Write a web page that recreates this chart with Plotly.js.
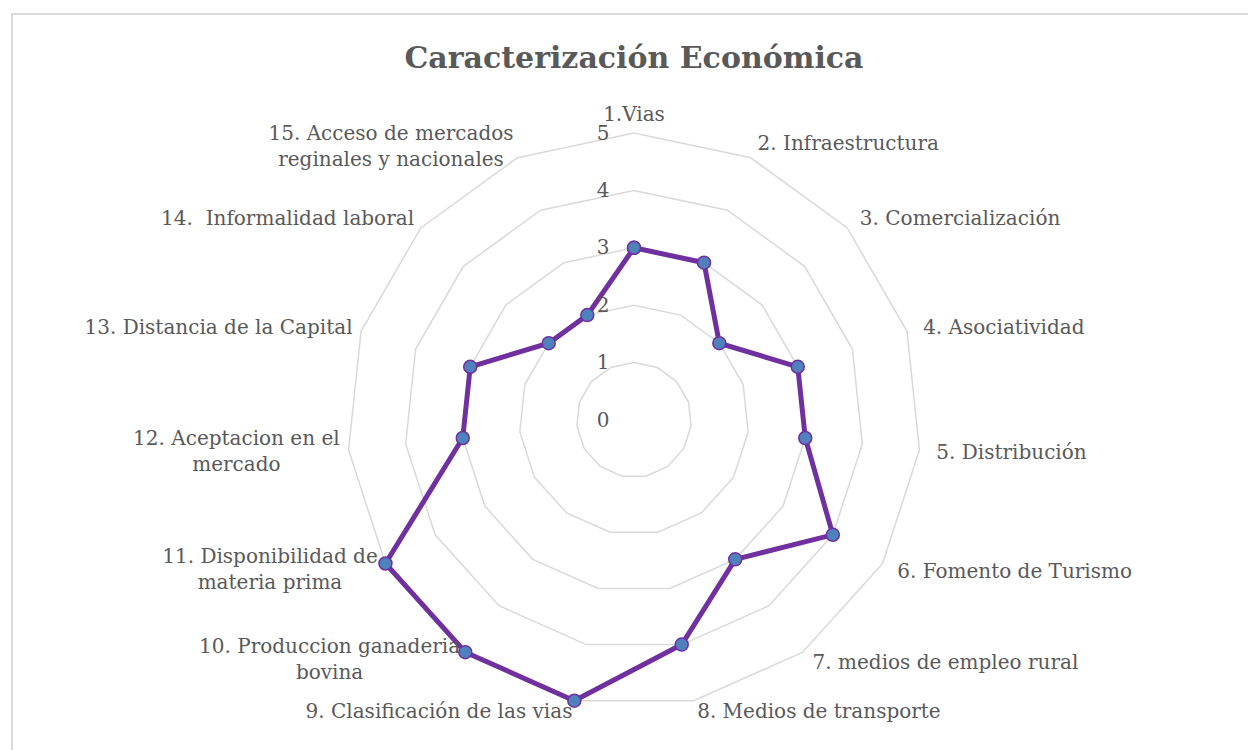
<!DOCTYPE html>
<html>
<head>
<meta charset="utf-8">
<script src="https://cdn.plot.ly/plotly-3.0.1.min.js"></script>
<style>
  html, body { margin: 0; padding: 0; width: 1248px; height: 750px; overflow: hidden; background: #fff; }
  #frame { position: absolute; left: 11px; top: 13px; width: 1400px; height: 900px; border: 2px solid #d9d9d9; box-sizing: border-box; }
  #chart { position: absolute; left: 0; top: 0; width: 1248px; height: 750px; }
</style>
</head>
<body>
<div id="frame"></div>
<div id="chart"></div>
<script>
const categories = [
  "1.Vias",
  "2. Infraestructura",
  "3. Comercialización",
  "4. Asociatividad",
  "5. Distribución",
  "6. Fomento de Turismo",
  "7. medios de empleo rural",
  "8. Medios de transporte",
  "9. Clasificación de las vias",
  "10. Produccion ganaderia<br>bovina",
  "11. Disponibilidad de<br>materia prima",
  "12. Aceptacion en el<br>mercado",
  "13. Distancia de la Capital",
  "14.  Informalidad laboral",
  "15. Acceso de mercados<br>reginales y nacionales"
];
const values = [3, 3, 2, 3, 3, 4, 3, 4, 5, 5, 5, 3, 3, 2, 2];
const radialTicks = [0, 1, 2, 3, 4, 5];
const titleText = "Caracterización Económica";

const theta = categories.concat([categories[0]]);
const r = values.concat([values[0]]);

// a little head-room past 5 so the thick line on the outer ring is not clipped
const rMax = 5.2;
const ringPx = 287;                 // pixel radius of the 5-ring
const outerPx = ringPx * rMax / 5;
const cx = 634, cy = 330;           // centre, px from left / from bottom

const trace = {
  type: "scatterpolar",
  r: r,
  theta: theta,
  mode: "lines+markers",
  cliponaxis: false,
  line: { color: "#7030A0", width: 5 },
  marker: { size: 13, color: "#4F81BD", line: { color: "#7030A0", width: 1.5 } },
  hoverinfo: "skip",
  showlegend: false
};

const layout = {
  width: 1248,
  height: 750,
  margin: { l: 0, r: 0, t: 0, b: 0 },
  paper_bgcolor: "rgba(0,0,0,0)",
  plot_bgcolor: "rgba(0,0,0,0)",
  title: {
    text: titleText,
    font: { family: "DejaVu Serif", size: 30, color: "#595959", weight: "bold" },
    x: 0.508, xanchor: "center",
    y: 0.924, yanchor: "middle"
  },
  polar: {
    domain: {
      x: [(cx - outerPx) / 1248, (cx + outerPx) / 1248],
      y: [(cy - outerPx) / 750, (cy + outerPx) / 750]
    },
    gridshape: "linear",
    bgcolor: "rgba(0,0,0,0)",
    radialaxis: {
      range: [0, rMax],
      tickvals: radialTicks,
      ticktext: radialTicks.map(String),
      angle: 90,
      tickangle: 90,
      side: "counterclockwise",
      showline: false,
      showgrid: true,
      gridcolor: "#d9d9d9",
      gridwidth: 1.5,
      ticks: "outside",
      ticklen: 17,
      tickcolor: "rgba(0,0,0,0)",
      tickfont: { family: "DejaVu Serif", size: 20, color: "#595959" }
    },
    angularaxis: {
      type: "category",
      direction: "clockwise",
      rotation: 90,
      showgrid: false,
      showline: false,
      ticks: "",
      tickfont: { family: "DejaVu Serif", size: 20, color: "#595959" }
    }
  }
};

Plotly.newPlot("chart", [trace], layout, { staticPlot: true, displayModeBar: false }).then(function (gd) {
  const plain = categories.map(c => c.replace("<br>", ""));
  gd.querySelectorAll("svg text").forEach(function (t) {
    const idx = plain.indexOf(t.textContent);
    if (idx < 0) return;
    const lines = t.querySelectorAll("tspan.line");
    const n = Math.max(lines.length, 1);
    // centre multi-line labels like the original
    if (lines.length > 1) {
      const bb = t.getBBox();
      const mx = bb.x + bb.width / 2;
      t.setAttribute("text-anchor", "middle");
      t.setAttribute("x", mx);
      lines.forEach(function (ln) { ln.setAttribute("x", mx); });
    }
    // spreadsheet-style placement: labels below the centre sit a bit higher,
    // right-hand labels a bit further out
    const a = idx * 2 * Math.PI / categories.length;
    const c = Math.cos(a), s = Math.sin(a);
    let dy = c < 0 ? 16 * c : 4 * c;
    dy += (n - 1) * 17 * c;
    const dx = s > 0 ? 5 * s : 3 * (-s);
    const tr = t.getAttribute("transform") || "";
    t.setAttribute("transform", tr + " translate(" + dx.toFixed(1) + "," + dy.toFixed(1) + ")");
  });
});
</script>
</body>
</html>
